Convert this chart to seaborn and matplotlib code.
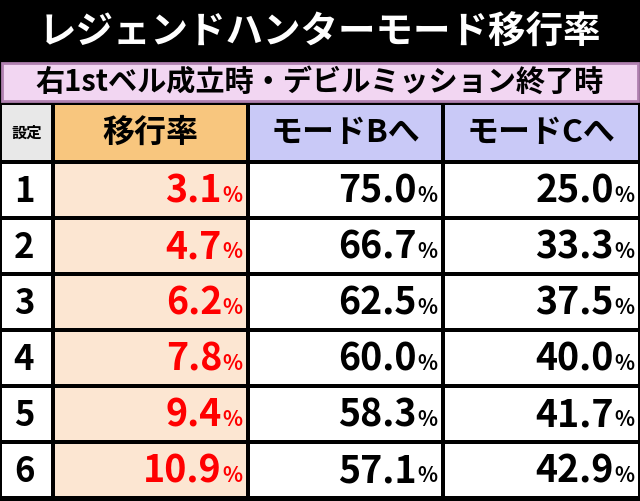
import matplotlib
matplotlib.use("Agg")
import matplotlib.pyplot as plt
from matplotlib.patches import Rectangle
import seaborn as sns

sns.set_theme(style="white")
FONT = "Noto Sans CJK JP"

title = "レジェンドハンターモード移行率"
subtitle = "右1stベル成立時・デビルミッション終了時"
headers = ["設定", "移行率", "モードBへ", "モードCへ"]
settings = ["1", "2", "3", "4", "5", "6"]
rate = ["3.1", "4.7", "6.2", "7.8", "9.4", "10.9"]
mode_b = ["75.0", "66.7", "62.5", "60.0", "58.3", "57.1"]
mode_c = ["25.0", "33.3", "37.5", "40.0", "41.7", "42.9"]

fig = plt.figure(figsize=(6.4, 5.01), dpi=100)
fig.patch.set_facecolor("black")
ax = fig.add_axes([0, 0, 1, 1])
ax.set_xlim(0, 640)
ax.set_ylim(501, 0)
ax.axis("off")

cols = [(2, 51), (55, 246), (250, 441), (445, 638)]
head_col = ["#e8e8e8", "#f8c67e", "#c9c9f7", "#c9c9f7"]

ax.text(320, 31, title, color="white", fontsize=27, fontweight="bold",
        family=FONT, ha="center", va="center")

ax.add_patch(Rectangle((2, 63), 636, 38, facecolor="#f2d6f2", edgecolor="#b080b0", lw=2))
ax.text(320, 82, subtitle, color="black", fontsize=21, fontweight="bold",
        family=FONT, ha="center", va="center")

hy0, hy1 = 105, 160
for i, ((x0, x1), h) in enumerate(zip(cols, headers)):
    ax.add_patch(Rectangle((x0, hy0), x1 - x0, hy1 - hy0, facecolor=head_col[i], lw=0))
    ax.text((x0 + x1) / 2, (hy0 + hy1) / 2, h, color="black",
            fontsize=11 if i == 0 else 23, fontweight="bold", family=FONT,
            ha="center", va="center")

row_h = 56
for r in range(len(settings)):
    y0 = 164 + r * row_h
    y1 = y0 + row_h - 4
    yc = (y0 + y1) / 2
    for i, (x0, x1) in enumerate(cols):
        fc = "#fce6d2" if i == 1 else "white"
        ax.add_patch(Rectangle((x0, y0), x1 - x0, y1 - y0, facecolor=fc, lw=0))
    ax.text(24, yc + 1, settings[r], fontsize=25, fontweight="bold", family=FONT,
            ha="center", va="center", color="black")
    for (x0, x1), val, c in [(cols[1], rate[r], "#ff0000"),
                             (cols[2], mode_b[r], "black"),
                             (cols[3], mode_c[r], "black")]:
        ax.text(x1 - 24, yc + 1, val, fontsize=27, fontweight="bold", family=FONT,
                ha="right", va="center", color=c)
        ax.text(x1 - 4, yc + 6, "%", fontsize=15, fontweight="bold", family=FONT,
                ha="right", va="center", color=c)

fig.savefig("out.png", dpi=100, facecolor="black")
